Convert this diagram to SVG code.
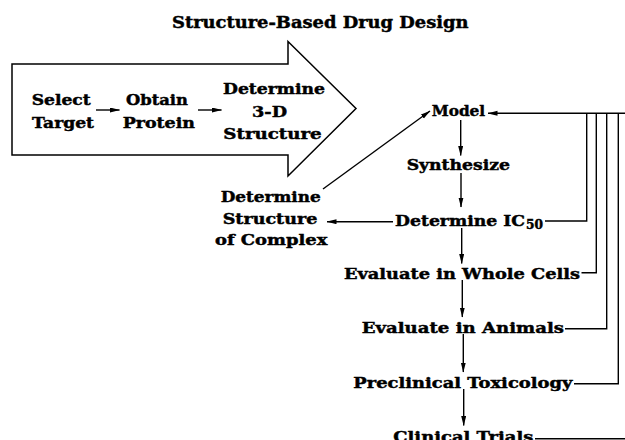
<svg xmlns="http://www.w3.org/2000/svg" width="625" height="440" viewBox="0 0 625 440">
<style>
text{font-family:"DejaVu Serif","Liberation Serif",serif;font-weight:bold;font-size:15px;fill:#000;stroke:#000;stroke-width:0.45}
.t{font-size:16.5px}
.ln{fill:none;stroke:#000;stroke-width:1.4}
.big{fill:#fff;stroke:#000;stroke-width:1.5;stroke-linejoin:miter}
</style>
<defs>
<marker id="ah" markerUnits="userSpaceOnUse" markerWidth="10" markerHeight="6" refX="9.5" refY="2.5" orient="auto">
<path d="M0,0 L10,2.5 L0,5 Z" fill="#000"/>
</marker>
</defs>
<rect width="625" height="440" fill="#fff"/>
<text id="title" class="t" x="172" y="28.3" textLength="296.5" lengthAdjust="spacingAndGlyphs">Structure-Based Drug Design</text>
<g id="big-arrow">
<polygon class="big" points="12,64 288,64 288,41.5 356,108.5 288,176 288,155 12,155"/>
</g>
<g id="select-target">
<text x="31.7" y="105" textLength="59" lengthAdjust="spacingAndGlyphs">Select</text>
<text x="32" y="127.7" textLength="62" lengthAdjust="spacingAndGlyphs">Target</text>
</g>
<g id="obtain-protein">
<text x="126" y="105" textLength="62" lengthAdjust="spacingAndGlyphs">Obtain</text>
<text x="122.7" y="127.7" textLength="72.3" lengthAdjust="spacingAndGlyphs">Protein</text>
</g>
<g id="determine-3d">
<text x="223" y="94" textLength="102" lengthAdjust="spacingAndGlyphs">Determine</text>
<text x="252" y="116.7" textLength="35" lengthAdjust="spacingAndGlyphs">3-D</text>
<text x="223.3" y="139.3" textLength="98.4" lengthAdjust="spacingAndGlyphs">Structure</text>
</g>
<g id="model"><text x="431.7" y="116" textLength="53.5" lengthAdjust="spacingAndGlyphs">Model</text></g>
<g id="synthesize"><text x="406.7" y="170" textLength="103.3" lengthAdjust="spacingAndGlyphs">Synthesize</text></g>
<g id="ic50"><text x="395" y="225.7"><tspan textLength="130" lengthAdjust="spacingAndGlyphs">Determine IC</tspan><tspan x="526" y="228.5" font-size="12" textLength="17" lengthAdjust="spacingAndGlyphs">50</tspan></text></g>
<g id="complex">
<text x="220.7" y="201.7" textLength="100" lengthAdjust="spacingAndGlyphs">Determine</text>
<text x="222.7" y="224" textLength="94.6" lengthAdjust="spacingAndGlyphs">Structure</text>
<text x="215" y="245" textLength="112.3" lengthAdjust="spacingAndGlyphs">of Complex</text>
</g>
<g id="whole-cells"><text x="344" y="279.3" textLength="236" lengthAdjust="spacingAndGlyphs">Evaluate in Whole Cells</text></g>
<g id="animals"><text x="361.7" y="333.3" textLength="202.3" lengthAdjust="spacingAndGlyphs">Evaluate in Animals</text></g>
<g id="preclinical"><text x="353.3" y="388.3" textLength="219" lengthAdjust="spacingAndGlyphs">Preclinical Toxicology</text></g>
<g id="clinical"><text x="393.3" y="441.5" textLength="140" lengthAdjust="spacingAndGlyphs">Clinical Trials</text></g>
<g id="connectors">
<line class="ln" x1="96" y1="110" x2="119.5" y2="110" marker-end="url(#ah)"/>
<line class="ln" x1="198" y1="110" x2="221.5" y2="110" marker-end="url(#ah)"/>
<line class="ln" x1="323" y1="189" x2="430" y2="111" marker-end="url(#ah)"/>
<line class="ln" x1="627" y1="113.3" x2="488" y2="113.3" marker-end="url(#ah)"/>
<line class="ln" x1="460.7" y1="120" x2="460.7" y2="155.5" marker-end="url(#ah)"/>
<line class="ln" x1="461" y1="173" x2="461" y2="207" marker-end="url(#ah)"/>
<line class="ln" x1="393" y1="221.7" x2="327" y2="221.7" marker-end="url(#ah)"/>
<line class="ln" x1="461.7" y1="228" x2="461.7" y2="263.5" marker-end="url(#ah)"/>
<line class="ln" x1="462.3" y1="280" x2="462.3" y2="317" marker-end="url(#ah)"/>
<line class="ln" x1="463.3" y1="334" x2="463.3" y2="372" marker-end="url(#ah)"/>
<line class="ln" x1="463.7" y1="389" x2="463.7" y2="425.5" marker-end="url(#ah)"/>
<path class="ln" d="M545,221 H586.7 V113.3"/>
<path class="ln" d="M581.5,272.8 H596.3 V113.3"/>
<path class="ln" d="M565,328.8 H606.7 V113.3"/>
<path class="ln" d="M574,383.7 H618.3 V113.3"/>
<path class="ln" d="M535,438.8 H627 V113.3"/>
</g>
</svg>
